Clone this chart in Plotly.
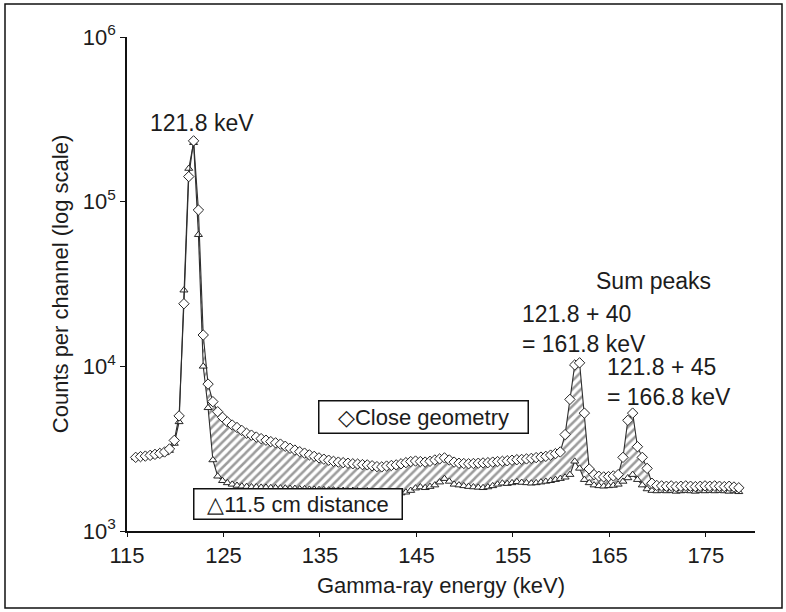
import plotly.graph_objects as go

# Channel energies (keV) of the gamma-ray spectrum, 0.5 keV channels
energy_kev = [
    115.9, 116.4, 116.9, 117.4, 117.9, 118.4, 118.9, 119.4, 119.9, 120.4,
    120.9, 121.4, 121.9, 122.4, 122.9, 123.4, 123.9, 124.4, 124.9, 125.4,
    125.9, 126.4, 126.9, 127.4, 127.9, 128.4, 128.9, 129.4, 129.9, 130.4,
    130.9, 131.4, 131.9, 132.4, 132.9, 133.4, 133.9, 134.4, 134.9, 135.4,
    135.9, 136.4, 136.9, 137.4, 137.9, 138.4, 138.9, 139.4, 139.9, 140.4,
    140.9, 141.4, 141.9, 142.4, 142.9, 143.4, 143.9, 144.4, 144.9, 145.4,
    145.9, 146.4, 146.9, 147.4, 147.9, 148.4, 148.9, 149.4, 149.9, 150.4,
    150.9, 151.4, 151.9, 152.4, 152.9, 153.4, 153.9, 154.4, 154.9, 155.4,
    155.9, 156.4, 156.9, 157.4, 157.9, 158.4, 158.9, 159.4, 159.9, 160.4,
    160.9, 161.4, 161.9, 162.4, 162.9, 163.4, 163.9, 164.4, 164.9, 165.4,
    165.9, 166.4, 166.9, 167.4, 167.9, 168.4, 168.9, 169.4, 169.9, 170.4,
    170.9, 171.4, 171.9, 172.4, 172.9, 173.4, 173.9, 174.4, 174.9, 175.4,
    175.9, 176.4, 176.9, 177.4, 177.9, 178.4,
]

# Counts per channel, source close to the detector
counts_close = [
    2800, 2830, 2850, 2880, 2920, 2960, 3020, 3150, 3550, 5000,
    24000, 142000, 234000, 89000, 15500, 7800, 6100, 5300, 4900, 4600,
    4400, 4250, 4080, 3920, 3820, 3720, 3640, 3560, 3490, 3430,
    3370, 3270, 3180, 3100, 3030, 2970, 2900, 2840, 2780, 2730,
    2690, 2650, 2620, 2600, 2580, 2560, 2550, 2530, 2520, 2490,
    2460, 2450, 2480, 2500, 2520, 2560, 2600, 2640, 2660, 2640,
    2620, 2650, 2700, 2740, 2780, 2700, 2620, 2580, 2570, 2560,
    2570, 2580, 2590, 2600, 2620, 2640, 2650, 2670, 2690, 2710,
    2720, 2740, 2760, 2790, 2810, 2840, 2890, 2950, 3020, 3850,
    6300, 10200, 10500, 5200, 2380, 2200, 2150, 2130, 2140, 2160,
    2200, 2800, 4700, 5200, 3250, 2800, 2400, 1950, 1890, 1880,
    1870, 1880, 1860, 1870, 1880, 1870, 1860, 1870, 1880, 1870,
    1880, 1870, 1860, 1870, 1850, 1830,
]

# Counts per channel, source at 11.5 cm from the detector
counts_far = [
    2780, 2800, 2830, 2850, 2880, 2920, 2980, 3080, 3400, 4600,
    29000, 159000, 228000, 63000, 10000, 5600, 2700, 2150, 2020, 1960,
    1920, 1890, 1870, 1860, 1850, 1850, 1840, 1840, 1830, 1830,
    1820, 1820, 1810, 1810, 1800, 1800, 1790, 1790, 1780, 1780,
    1770, 1770, 1760, 1760, 1750, 1760, 1750, 1740, 1750, 1740,
    1720, 1700, 1700, 1690, 1690, 1700, 1720, 1760, 1820, 1850,
    1830, 1860, 1900, 1980, 2080, 2000, 1920, 1900, 1880, 1860,
    1850, 1840, 1830, 1850, 1880, 1920, 1950, 1940, 1960, 1990,
    1970, 1960, 1950, 1960, 1980, 2000, 2020, 2050, 2080, 2120,
    2200, 2650, 2400, 2050, 1960, 1900, 1880, 1870, 1880, 1890,
    1920, 2000, 2100, 2200, 2050, 1900, 1800, 1760, 1750, 1760,
    1750, 1760, 1740, 1750, 1760, 1750, 1740, 1760, 1750, 1760,
    1750, 1760, 1750, 1740, 1750, 1730,
]

x_tick_vals = [115, 125, 135, 145, 155, 165, 175]
y_tick_vals = [1e3, 1e4, 1e5, 1e6]
y_tick_text = ["10<sup>3</sup>", "10<sup>4</sup>", "10<sup>5</sup>", "10<sup>6</sup>"]

FONT = "Liberation Sans, Arial, Helvetica, sans-serif"
INK = "#1c1c1c"
LINE = "#2e2e2e"
FS = 23

fig = go.Figure()

fig.add_trace(go.Scatter(
    x=energy_kev, y=counts_far, mode="lines+markers", name="11.5 cm distance",
    line=dict(color=LINE, width=1.1),
    marker=dict(symbol="triangle-up", size=7, color="white",
                line=dict(color="#262626", width=1)),
    showlegend=False,
))

# Hatched band between the two spectra
fig.add_trace(go.Scatter(
    x=energy_kev, y=counts_close, mode="lines+markers", name="Close geometry",
    line=dict(color=LINE, width=1.1),
    marker=dict(symbol="diamond", size=8, color="white",
                line=dict(color="#262626", width=1)),
    fill="tonexty", fillcolor="white",
    fillpattern=dict(shape="/", fgcolor="#3a3a3a", bgcolor="white",
                     size=6, solidity=0.42),
    showlegend=False,
))

def px_x(px):
    return (px - 127) / 628.0

def px_y(py):
    return (531 - py) / 494.0

text_notes = [
    ("121.8 keV", 148, 123),
    ("Sum peaks", 594, 281),
    ("121.8 + 40<br>= 161.8 keV", 520, 329),
    ("121.8 + 45<br>= 166.8 keV", 605, 382),
]
annotations = []
for txt, lx, cy in text_notes:
    annotations.append(dict(
        text=txt, xref="paper", yref="paper", x=px_x(lx), y=px_y(cy),
        xanchor="left", yanchor="middle", align="left", showarrow=False,
        font=dict(family=FONT, size=FS, color=INK),
    ))

# Boxed key entries
key_boxes = [
    ("\u25C7Close geometry", 423, 417, 212, 35),
    ("\u25B311.5 cm distance", 297.5, 504, 211, 33),
]
for txt, cx, cy, w, h in key_boxes:
    annotations.append(dict(
        text=txt, xref="paper", yref="paper", x=px_x(cx), y=px_y(cy),
        xanchor="center", yanchor="middle", showarrow=False,
        width=w - 6, height=h - 6, align="center", valign="middle",
        bgcolor="white", bordercolor="#111111", borderwidth=1.5, borderpad=1,
        font=dict(family=FONT, size=FS - 1, color=INK),
    ))

fig.update_layout(
    width=786, height=612,
    margin=dict(l=127, r=31, t=37, b=81),
    paper_bgcolor="white", plot_bgcolor="white",
    font=dict(family=FONT, size=FS, color=INK),
    annotations=annotations,
    shapes=[dict(type="rect", xref="paper", yref="paper",
                 x0=px_x(5), x1=px_x(782), y0=px_y(608), y1=px_y(4),
                 line=dict(color="#111111", width=1.5), fillcolor="rgba(0,0,0,0)",
                 layer="below")],
    xaxis=dict(
        range=[115, 180.08], tickvals=x_tick_vals, ticks="outside", ticklen=4,
        tickcolor="#111111", tickwidth=1, showline=True, linecolor="#111111",
        linewidth=1.5, showgrid=False, zeroline=False,
        tickfont=dict(family=FONT, size=FS - 1, color=INK),
        title=dict(text="Gamma-ray energy (keV)", standoff=10,
                   font=dict(family=FONT, size=FS - 1, color=INK)),
        automargin=False,
    ),
    yaxis=dict(
        type="log", range=[3, 6], tickvals=y_tick_vals, ticktext=y_tick_text,
        ticks="outside", ticklen=5, tickcolor="#111111", tickwidth=1,
        showline=True, linecolor="#111111", linewidth=1.5, showgrid=False,
        zeroline=False, tickfont=dict(family=FONT, size=FS - 1, color=INK),
        title=dict(text="Counts per channel (log scale)", standoff=8,
                   font=dict(family=FONT, size=FS - 1, color=INK)),
        automargin=False,
    ),
)

fig.write_html("out.html")
